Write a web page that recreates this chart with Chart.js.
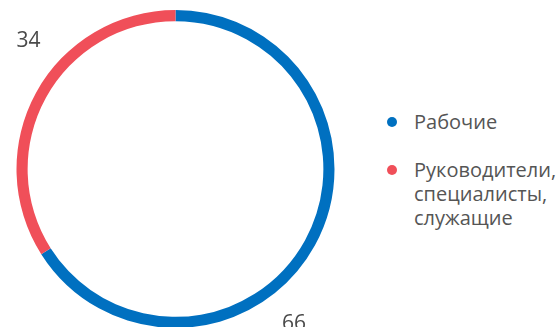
<!DOCTYPE html>
<html>
<head>
<meta charset="utf-8">
<script src="https://cdn.jsdelivr.net/npm/chart.js@4"></script>
<style>
    html, body { margin: 0; padding: 0; background: #fff; overflow: hidden; }
    body { width: 557px; height: 327px; position: relative; font-family: "Open Sans", sans-serif; }
    #chartBox { position: absolute; left: 0; top: 0; width: 351px; height: 338px; }
    #legend { position: absolute; left: 387px; top: 110px; color: #555; font-size: 20px; line-height: 24px; }
    .item { position: relative; padding-left: 27px; margin-bottom: 24px; }
    .dot { position: absolute; left: 0; top: 7px; width: 10px; height: 10px; border-radius: 50%; }
</style>
</head>
<body>
<div id="chartBox"><canvas id="pieChart"></canvas></div>
<div id="legend"></div>
<script>
const categories = ['Рабочие', ['Руководители,', 'специалисты,', 'служащие']];
const values = [66, 34];
const colors = ['#0070c0', '#f04f59'];

// value labels outside the ring
const outsideLabels = {
    id: 'outsideLabels',
    afterDatasetsDraw(chart) {
        const ctx = chart.ctx;
        const meta = chart.getDatasetMeta(0);
        ctx.save();
        ctx.font = '21px "Open Sans", sans-serif';
        ctx.fillStyle = '#4a4a4a';
        ctx.textAlign = 'center';
        ctx.textBaseline = 'middle';
        meta.data.forEach((arc, i) => {
            const a = arc.startAngle + 0.6 * (arc.endAngle - arc.startAngle);
            const r = arc.outerRadius + 36;
            ctx.fillText(String(values[i]), arc.x + Math.cos(a) * r, arc.y + Math.sin(a) * r);
        });
        ctx.restore();
    }
};

const ctx = document.getElementById('pieChart').getContext('2d');
window.pieChart = new Chart(ctx, {
    type: 'doughnut',
    data: {
        labels: categories,
        datasets: [{
            data: values,
            backgroundColor: colors,
            borderWidth: 0
        }]
    },
    options: {
        responsive: true,
        maintainAspectRatio: false,
        animation: false,
        cutout: '93%',
        layout: { padding: 10 },
        plugins: {
            legend: { display: false },
            tooltip: { enabled: false }
        }
    },
    plugins: [outsideLabels]
});

const legend = document.getElementById('legend');
categories.forEach((label, i) => {
    const item = document.createElement('div');
    item.className = 'item';
    const dot = document.createElement('span');
    dot.className = 'dot';
    dot.style.background = colors[i];
    item.appendChild(dot);
    const lines = Array.isArray(label) ? label : [label];
    lines.forEach(line => {
        const d = document.createElement('div');
        d.textContent = line;
        item.appendChild(d);
    });
    legend.appendChild(item);
});
</script>
</body>
</html>
